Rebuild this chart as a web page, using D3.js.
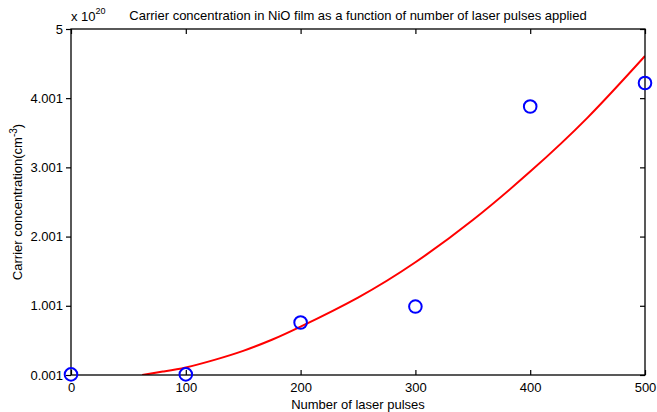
<!DOCTYPE html>
<html>
<head>
<meta charset="utf-8">
<script src="https://cdn.jsdelivr.net/npm/d3@7"></script>
<style>
  body { margin: 0; background: #fff; }
  text { font-family: "Liberation Sans", Arial, sans-serif; fill: #000; }
</style>
</head>
<body>
<svg id="chart" width="657" height="412"></svg>
<script>
// measured points (x 1e20 cm^-3)
const pulses = [0, 100, 200, 300, 400, 500];
const carrier = [0.01, 0.01, 0.76, 0.99, 3.88, 4.22];

// fitted curve
const fitPulses = [62, 80, 100, 125, 150, 175, 200, 250, 300, 350, 400, 450, 500];
const fitValues = [0, 0.05, 0.11, 0.22, 0.35, 0.51, 0.70, 1.12, 1.63, 2.24, 2.94, 3.72, 4.61];

const xTicks = [0, 100, 200, 300, 400, 500];
const yTicks = [0.001, 1.001, 2.001, 3.001, 4.001, 5];
const yTickLabels = ["0.001", "1.001", "2.001", "3.001", "4.001", "5"];

const margin = {top: 29, right: 12, bottom: 37, left: 71};
const W = 657, H = 412;
const w = W - margin.left - margin.right,
      h = H - margin.top - margin.bottom;
const fs = 13;

const svg = d3.select("#chart");
const g = svg.append("g").attr("transform", "translate(" + margin.left + "," + margin.top + ")");

const x = d3.scaleLinear().domain([0, 500]).range([0, w]);
const y = d3.scaleLinear().domain([0.001, 5]).range([h, 0]);

g.append("clipPath").attr("id", "clip")
  .append("rect").attr("width", w).attr("height", h);

// fit line
let line = d3.line()
             .x(function(d) { return x(d[0]); })
             .y(function(d) { return y(d[1]); })
             .curve(d3.curveNatural);

g.append("path")
  .datum(fitPulses.map(function(p, i) { return [p, fitValues[i]]; }))
  .attr("d", line)
  .attr("clip-path", "url(#clip)")
  .attr("fill", "none")
  .attr("stroke", "#ff0000")
  .attr("stroke-width", 2);

// box
g.append("rect")
  .attr("width", w).attr("height", h)
  .attr("fill", "none").attr("stroke", "#000").attr("stroke-width", 1.3);

// axes
let fmtY = function(d, i) { return yTickLabels[i]; };

g.append("g").attr("transform", "translate(0," + h + ")")
  .call(d3.axisBottom(x).tickValues(xTicks).tickSize(-5).tickPadding(8).tickFormat(d3.format("d")));
g.append("g")
  .call(d3.axisTop(x).tickValues(xTicks).tickSize(-5).tickFormat(""));
g.append("g")
  .call(d3.axisLeft(y).tickValues(yTicks).tickSize(5).tickPadding(3).tickFormat(fmtY));
g.append("g").attr("transform", "translate(" + w + ",0)")
  .call(d3.axisRight(y).tickValues(yTicks).tickSize(-5).tickFormat(""));

g.selectAll(".domain").remove();
g.selectAll(".tick line").attr("stroke", "#000").attr("stroke-width", 1.2);
g.selectAll(".tick text").attr("font-size", fs).attr("fill", "#000")
  .style("font-family", "'Liberation Sans', Arial, sans-serif");

// circles
g.selectAll("circle.pt")
  .data(pulses)
  .join("circle")
  .attr("class", "pt")
  .attr("cx", function(d) { return x(d); })
  .attr("cy", function(d, i) { return y(carrier[i]); })
  .attr("r", 6.3)
  .attr("fill", "none")
  .attr("stroke", "#0000ff")
  .attr("stroke-width", 2);

// labels
svg.append("text")
  .attr("x", margin.left + w / 2).attr("y", 409)
  .attr("text-anchor", "middle").attr("font-size", fs)
  .text("Number of laser pulses");

let yl = svg.append("text")
  .attr("transform", "translate(22," + (margin.top + h / 2) + ") rotate(-90)")
  .attr("text-anchor", "middle").attr("font-size", fs);
yl.append("tspan").text("Carrier concentration(cm");
yl.append("tspan").attr("dy", -5).attr("font-size", 10).text("-3");
yl.append("tspan").attr("dy", 5).text(")");

svg.append("text")
  .attr("x", margin.left + w / 2).attr("y", 20)
  .attr("text-anchor", "middle").attr("font-size", fs)
  .text("Carrier concentration in NiO film as a function of number of laser pulses applied");

let ex = svg.append("text").attr("x", 71).attr("y", 21).attr("font-size", fs);
ex.append("tspan").text("x 10");
ex.append("tspan").attr("dy", -7).attr("font-size", 9).text("20");
</script>
</body>
</html>
